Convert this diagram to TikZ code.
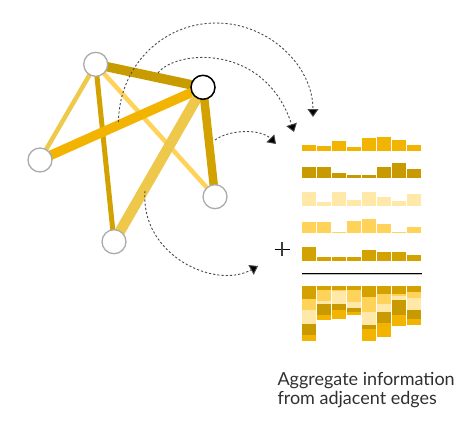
\documentclass[tikz,border=0pt]{standalone}
\usepackage{fontspec}
\setmainfont{Lato}
\usetikzlibrary{arrows.meta}
\definecolor{rowone}{HTML}{F2B400}
\definecolor{rowtwo}{HTML}{C99A00}
\definecolor{rowthree}{HTML}{FFE8A8}
\definecolor{rowfour}{HTML}{FFD35A}
\definecolor{rowfive}{HTML}{D4A200}
\definecolor{edgeAB}{HTML}{C89B00}
\definecolor{edgeBC}{HTML}{F2B400}
\definecolor{edgeBE}{HTML}{EDC84A}
\definecolor{edgeBD}{HTML}{D4A200}
\definecolor{edgeAC}{HTML}{EEC94A}
\definecolor{edgeAE}{HTML}{D4A200}
\definecolor{edgeAD}{HTML}{FFD35A}
\definecolor{nodegray}{HTML}{ABABAB}
\definecolor{dashgray}{HTML}{4A4A4A}
\definecolor{txtgray}{HTML}{303030}
\tikzset{
  vtx/.style={circle, draw=nodegray, line width=1.3pt, fill=white, minimum size=24pt, inner sep=0pt},
  vtxsel/.style={vtx, draw=black, line width=1.5pt},
  edgeline/.style={line cap=butt},
  flow/.style={draw=dashgray, line width=0.9pt, dash pattern=on 2.2pt off 2pt,
    -{Triangle[width=11pt,length=8pt,fill=black]}},
  lbl/.style={anchor=base west, font=\fontsize{18}{22}\selectfont, text=txtgray, inner sep=0pt}
}
\begin{document}
\begin{tikzpicture}[x=1pt,y=-1pt]
\useasboundingbox (0,0) rectangle (474,421);
% positions
\coordinate (a) at (95.7,64.3);
\coordinate (b) at (203,87.3);
\coordinate (c) at (40,160);
\coordinate (d) at (215,196.7);
\coordinate (e) at (114,241.7);
% edges
\draw[edgeline, edgeAC, line width=4.5pt] (a) -- (c);
\draw[edgeline, edgeAD, line width=4.5pt] (a) -- (d);
\draw[edgeline, edgeAE, line width=5pt] (a) -- (e);
\draw[edgeline, edgeAB, line width=9.5pt] (a) -- (b);
\draw[edgeline, edgeBC, line width=9.5pt] (b) -- (c);
\draw[edgeline, edgeBE, line width=10.5pt] (b) -- (e);
\draw[edgeline, edgeBD, line width=8.5pt] (b) -- (d);
% nodes
\node[vtx] (A) at (a) {};
\node[vtxsel] (B) at (b) {};
\node[vtx] (C) at (c) {};
\node[vtx] (D) at (d) {};
\node[vtx] (E) at (e) {};
% flow arrows
\coordinate (s1) at (118.5,122);
\coordinate (t1) at (313,117);
\coordinate (s2) at (158,73);
\coordinate (t2) at (294,132);
\coordinate (s3) at (215,140);
\coordinate (t3) at (276,144);
\coordinate (s4) at (145,191);
\coordinate (t4) at (258,266);
\draw[flow] (s1) .. controls (119,66.4) and (162.4,23) .. (216,23)
  .. controls (269.6,23) and (313,66.4) .. (t1);
\draw[flow] (s2) .. controls (175,50) and (265,42) .. (t2);
\draw[flow] (s3) .. controls (228,130) and (260,128) .. (t3);
\draw[flow] (s4) .. controls (140,255) and (215,290) .. (t4);
% bar rows
\foreach \v [count=\i] in {6,4.7,9.7,3.3,12.3,13.7,10.7,6}
  \fill[rowone] ({302+15*(\i-1)},150.7) rectangle ++(14,-\v);
\foreach \v [count=\i] in {11,11,5.3,3.7,3.7,11,15,9.7}
  \fill[rowtwo] ({302+15*(\i-1)},178.3) rectangle ++(14,-\v);
\foreach \v [count=\i] in {13.3,3.7,13.3,6,13.3,8.3,4.7,12}
  \fill[rowthree] ({302+15*(\i-1)},205.7) rectangle ++(14,-\v);
\foreach \v [count=\i] in {11,11,1.3,12.3,14.7,9.7,1.3,6}
  \fill[rowfour] ({302+15*(\i-1)},233.3) rectangle ++(14,-\v);
\foreach \v [count=\i] in {13.3,3.7,3.7,3.7,11,8.3,8.3,5.7}
  \fill[rowfive] ({302+15*(\i-1)},260.7) rectangle ++(14,-\v);
% plus and rule
\coordinate (p) at (282,249.3);
\draw[line width=1.2pt, black] ([xshift=-7.5pt]p) -- ([xshift=7.5pt]p);
\draw[line width=1.2pt, black!85!cyan] ([yshift=-7pt]p) -- ([yshift=7pt]p);
\coordinate (r1) at (302,273.3);
\coordinate (r2) at (421.7,273.3);
\draw[line width=0.8pt, black!25] ([yshift=-1.2pt]r1) -- ([yshift=-1.2pt]r2);
\draw[line width=1.2pt, black] (r1) -- (r2);
% stacked bars (row5/row4/row3/row2/row1 from top)
\foreach \pa/\pb/\pc/\pd/\pe [count=\i] in {13.3/11/13.3/11/6, 3.7/11/3.7/11/4.7, 3.7/1.3/13.3/5.3/9.7, 3.7/12.3/6/3.7/3.3, 11/14.7/13.3/3.7/12.3, 8.3/9.7/8.3/11/13.7, 8.3/1.3/4.7/15/10.7, 5.7/6/12/9.7/6}{
  \pgfmathsetmacro{\xx}{302+15*(\i-1)}
  \pgfmathsetmacro{\ya}{286}
  \pgfmathsetmacro{\yb}{\ya+\pa}
  \pgfmathsetmacro{\yc}{\yb+\pb}
  \pgfmathsetmacro{\yd}{\yc+\pc}
  \pgfmathsetmacro{\ye}{\yd+\pd}
  \fill[rowfive] (\xx,\ya) rectangle ++(14,\pa);
  \fill[rowfour] (\xx,\yb) rectangle ++(14,\pb);
  \fill[rowthree] (\xx,\yc) rectangle ++(14,\pc);
  \fill[rowtwo] (\xx,\yd) rectangle ++(14,\pd);
  \fill[rowone] (\xx,\ye) rectangle ++(14,\pe);
}
% caption
\node[lbl] (t1label) at (277.3,385.7) {Aggregate information};
\node[lbl] (t2label) at (277.3,404.3) {from adjacent edges};
\end{tikzpicture}
\end{document}
